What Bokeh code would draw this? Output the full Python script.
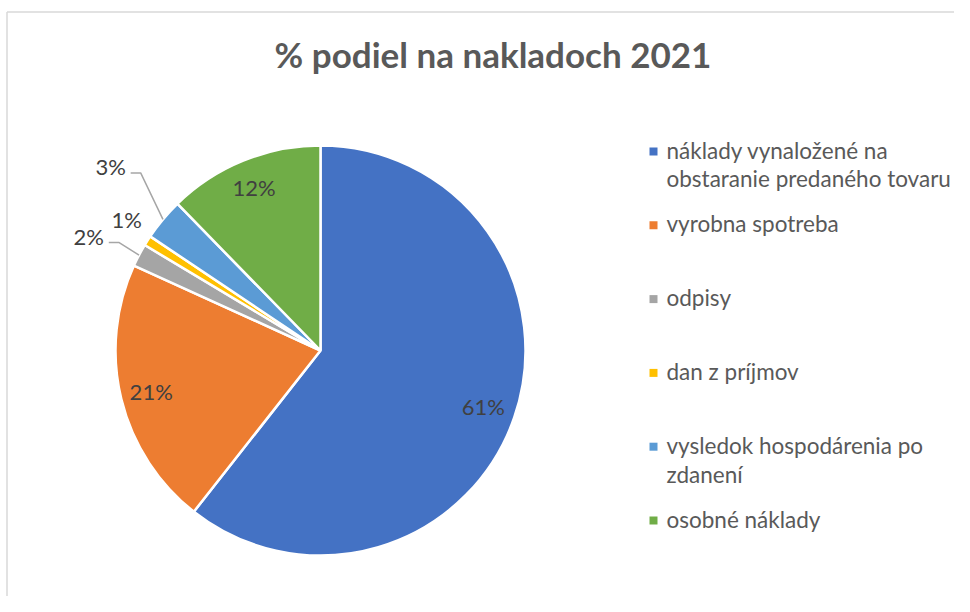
import numpy as np
from bokeh.plotting import figure
from bokeh.models import Range1d, ColumnDataSource
from bokeh.core.properties import value
from bokeh.embed import file_html
from bokeh.resources import INLINE

# ---- data ----
title = "% podiel na nakladoch 2021"
categories = [
    "náklady vynaložené na\nobstaranie predaného tovaru",
    "vyrobna spotreba",
    "odpisy",
    "dan z príjmov",
    "vysledok hospodárenia po\nzdanení",
    "osobné náklady",
]
shares = [60.6, 21.2, 1.8, 0.8, 3.3, 12.3]
labels = ["61%", "21%", "2%", "1%", "3%", "12%"]
colors = ["#4472C4", "#ED7D31", "#A5A5A5", "#FFC000", "#5B9BD5", "#70AD47"]

# ---- layout (screen px) ----
W, H = 954, 596
PAGE_H = 612


def sy(y):
    return PAGE_H - y


cx, cy, R = 320, sy(350), 205
FONT = "Lato"

p = figure(width=W, height=H, output_backend="svg", toolbar_location=None,
           x_range=Range1d(0, W), y_range=Range1d(PAGE_H - H, PAGE_H),
           min_border=0, tools="")
p.axis.visible = False
p.grid.visible = False
p.outline_line_color = None
p.background_fill_color = "white"
p.border_fill_color = "white"

# chart border
p.line([6.5, W], [sy(11.5), sy(11.5)], line_color="#D9D9D9", line_width=1.5)
p.line([6.5, 6.5], [sy(11.5), PAGE_H - H], line_color="#D9D9D9", line_width=1.5)

# pie
fr = np.array(shares) / sum(shares)
cum_end = np.cumsum(fr)
cum_start = cum_end - fr
start = np.pi / 2 - 2 * np.pi * cum_end
end = np.pi / 2 - 2 * np.pi * cum_start
src = ColumnDataSource(dict(start=start, end=end, color=colors))
p.wedge(x=cx, y=cy, radius=R, start_angle="start", end_angle="end",
        fill_color="color", line_color="white", line_width=2.5, source=src)

# data labels
mid = np.pi / 2 - 2 * np.pi * (cum_start + fr / 2)
lab_r = np.array([0.84, 0.85, 1.26, 1.14, 1.36, 0.86]) * R
lab_da = np.radians([0, 0, 1.5, -1.6, -1.4, 0])
lx = cx + lab_r * np.cos(mid + lab_da)
ly = cy + lab_r * np.sin(mid + lab_da)
p.text(x=lx, y=ly, text=labels, text_align="center", text_baseline="middle",
       text_font=value(FONT), text_font_size="22px", text_color="#404040")

# leader lines for outside labels that need them
leader = [False, False, True, False, True, False]
for i in range(len(shares)):
    if leader[i]:
        ex = cx + R * np.cos(mid[i])
        ey = cy + R * np.sin(mid[i])
        p.line([ex, lx[i] + 30, lx[i] + 20], [ey, ly[i] - 6, ly[i] - 6],
               line_color="#A6A6A6", line_width=1.5)

# title
p.text(x=[492.5], y=[sy(53)], text=[title], text_align="center", text_baseline="middle",
       text_font=value(FONT), text_font_style="bold", text_font_size="35px",
       text_color="#595959")

# legend (manual)
leg_y = [sy(151 + i * 73.8) for i in range(len(categories))]
p.scatter(x=[653] * len(categories), y=leg_y, marker="square", size=8,
          fill_color=colors, line_color=None)
p.text(x=[666] * len(categories), y=[y + 15 for y in leg_y], text=categories,
       text_align="left", text_baseline="top", text_line_height=1.07,
       text_font=value(FONT), text_font_size="22.5px", text_color="#595959")

open("out.html", "w").write(file_html(p, INLINE))
